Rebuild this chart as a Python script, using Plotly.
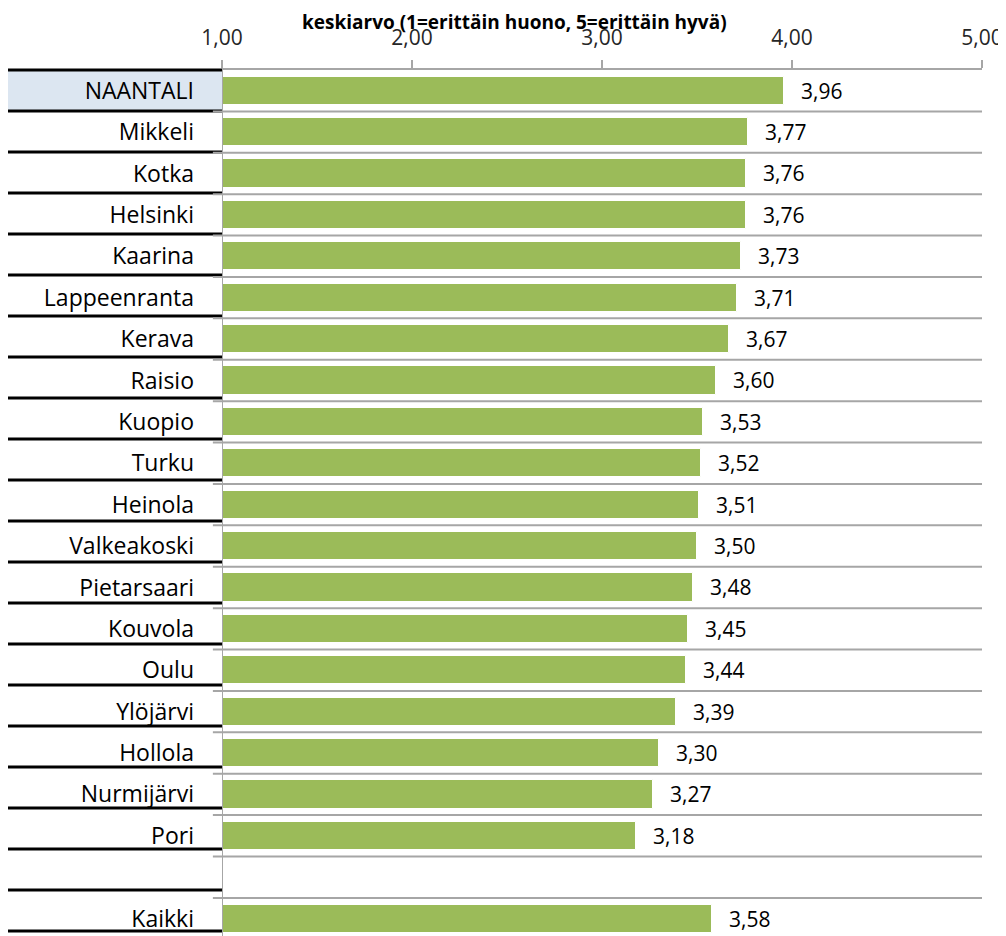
import plotly.graph_objects as go

# data
cities = ['NAANTALI', 'Mikkeli', 'Kotka', 'Helsinki', 'Kaarina', 'Lappeenranta',
          'Kerava', 'Raisio', 'Kuopio', 'Turku', 'Heinola', 'Valkeakoski',
          'Pietarsaari', 'Kouvola', 'Oulu', 'Ylöjärvi', 'Hollola', 'Nurmijärvi',
          'Pori', '', 'Kaikki']
averages = [3.96, 3.77, 3.76, 3.76, 3.73, 3.71, 3.67, 3.60, 3.53, 3.52, 3.51,
            3.50, 3.48, 3.45, 3.44, 3.39, 3.30, 3.27, 3.18, None, 3.58]
x_ticks = [1, 2, 3, 4, 5]
axis_title = 'keskiarvo (1=erittäin huono, 5=erittäin hyvä)'

FONT = 'Open Sans'
GREEN = '#9bbb59'
GRID = '#a6a6a6'

rows = list(range(len(cities)))
n = len(cities)

PLOT_H = 866        # plot area height in px
TABLE_ROW = 41.0    # the label "table" on the left has slightly tighter rows

fig = go.Figure()
fig.add_trace(go.Bar(
    x=[v - 1 if v is not None else None for v in averages],
    base=1,
    y=rows,
    orientation='h',
    width=0.68,
    marker=dict(color=GREEN, line=dict(color='white', width=1)),
    hoverinfo='skip',
))

# value labels right of the bars
for r, v in zip(rows, averages):
    if v is None:
        continue
    fig.add_annotation(
        x=v, y=r, xref='x', yref='y',
        text=f'{v:.2f}'.replace('.', ','),
        showarrow=False, xanchor='left', xshift=15,
        font=dict(family=FONT, size=21, color='black'),
    )

def table_y(k):
    return 1 - k * TABLE_ROW / PLOT_H

shapes = []
# highlight box behind first label
shapes.append(dict(type='rect', xref='paper', yref='paper',
                   x0=-0.283, x1=0, y0=table_y(1), y1=table_y(0),
                   fillcolor='#dce6f1', line=dict(width=0), layer='below'))
# black underlines under the labels
for k in range(n + 1):
    shapes.append(dict(type='line', xref='paper', yref='paper',
                       x0=-0.283, x1=0, y0=table_y(k), y1=table_y(k),
                       line=dict(color='black', width=3)))
# grey row separators in the plot area
for k in range(1, n + 1):
    shapes.append(dict(type='line', xref='paper', yref='y',
                       x0=-0.012, x1=1, y0=k - 0.5, y1=k - 0.5,
                       line=dict(color=GRID, width=2)))
# y axis line, running a little above the plot
shapes.append(dict(type='line', xref='x', yref='paper',
                   x0=1, x1=1, y0=0, y1=1 + 8 / PLOT_H,
                   line=dict(color=GRID, width=2)))
fig.update_layout(shapes=shapes)

fig.update_xaxes(
    side='top', range=[1, 5], tickvals=x_ticks, tickformat='.2f',
    ticks='outside', ticklen=8, tickcolor=GRID, tickwidth=2,
    showline=True, linecolor=GRID, linewidth=2,
    showgrid=False, zeroline=False, automargin=False,
    ticklabelstandoff=7,
    tickfont=dict(family=FONT, size=21, color='#262626'),
    fixedrange=True,
)
fig.update_yaxes(
    range=[20.42, -0.5], tickvals=rows, ticktext=cities,
    ticks='', showgrid=False, zeroline=False, showline=False,
    ticklabelstandoff=27, automargin=False,
    tickfont=dict(family=FONT, size=23, color='black'),
    fixedrange=True,
)

fig.add_annotation(
    text=f'<b>{axis_title}</b>', xref='paper', yref='paper',
    x=0.385, y=1.0, yshift=48, xanchor='center', yanchor='middle',
    showarrow=False, font=dict(family=FONT, size=19, color='black'),
)

fig.update_layout(
    width=1006, height=62 + PLOT_H,
    margin=dict(l=214, r=32, t=62, b=0),
    separators=', ',
    plot_bgcolor='white', paper_bgcolor='white',
    showlegend=False, bargap=0,
)

fig.write_html('out.html')
